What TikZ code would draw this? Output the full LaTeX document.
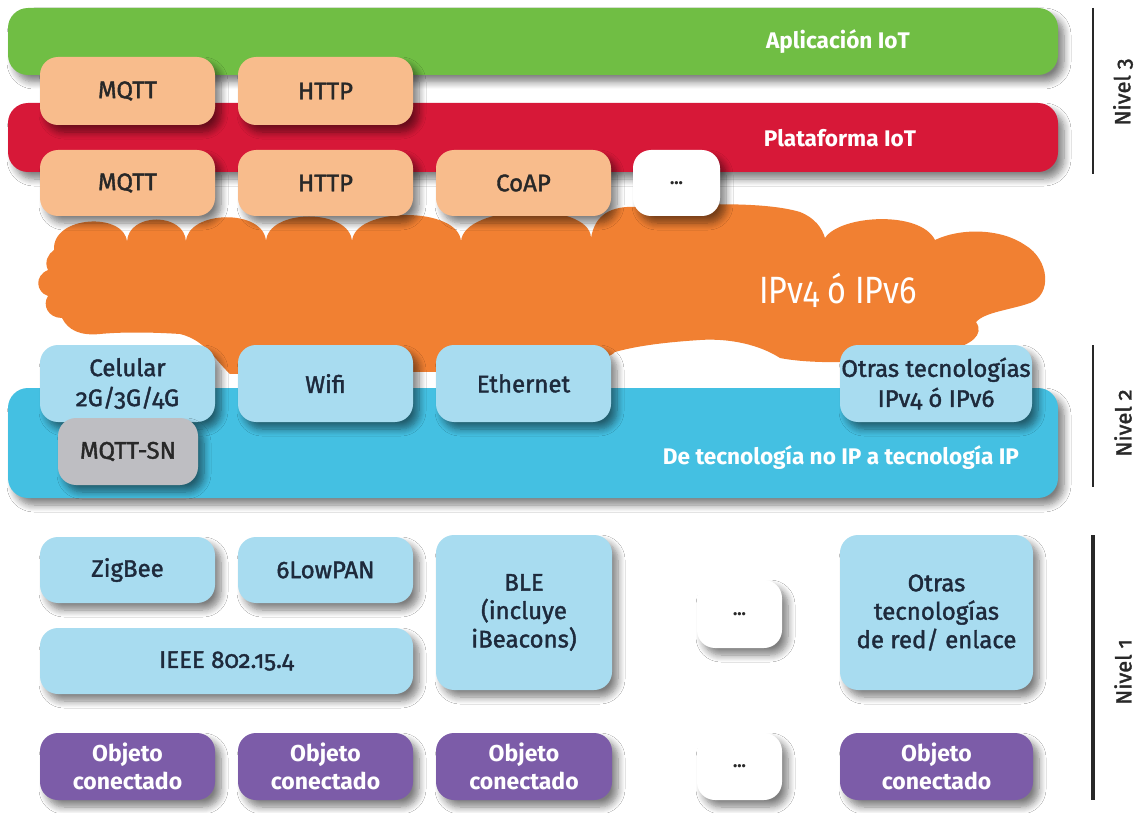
\documentclass[tikz,border=0pt]{standalone}
\usepackage{fontspec}
\usepackage{graphicx}
\setmainfont{Fira Sans}[Numbers=OldStyle]
\newfontfamily\medfont{Fira Sans}[Numbers=OldStyle, FakeBold=1.6]
\usetikzlibrary{shadows.blur}
\definecolor{cgreen}{RGB}{112,190,68}
\definecolor{cred}{RGB}{215,24,56}
\definecolor{cpeach}{RGB}{248,188,140}
\definecolor{corange}{RGB}{241,128,50}
\definecolor{clblue}{RGB}{168,220,240}
\definecolor{cblue}{RGB}{68,192,226}
\definecolor{cgray}{RGB}{190,190,194}
\definecolor{cpurple}{RGB}{124,92,168}
\definecolor{ctext}{RGB}{40,40,40}
\definecolor{cnavy}{RGB}{30,42,60}
\begin{document}
\begin{tikzpicture}[x=0.5pt,y=-0.5pt,
  sz/.style 2 args={minimum width=#1*0.5pt, minimum height=#2*0.5pt},
  softshadow/.style={blur shadow={shadow xshift=3pt,shadow yshift=-3.5pt,shadow blur radius=3.5pt,shadow blur steps=8,shadow opacity=50}},
  boxbase/.style={softshadow, rounded corners=9pt, inner sep=0pt, align=center, font=\medfont\fontsize{12}{15}\selectfont},
  barbox/.style={boxbase, rounded corners=10pt, sz={1050}{#1}},
  peachbox/.style={boxbase, fill=cpeach, text=ctext},
  lbluebox/.style={boxbase, fill=clblue, text=cnavy},
  whitebox/.style={boxbase, fill=white, text=ctext, font=\bfseries\fontsize{9}{10}\selectfont},
  graybox/.style={boxbase, fill=cgray, text=ctext},
  objbox/.style={boxbase, fill=cpurple, text=white, font=\bfseries\fontsize{11.5}{14}\selectfont},
  barlabel/.style={text=white, font=\bfseries\fontsize{11.3}{14}\selectfont, inner sep=0pt},
  nivel/.style={rotate=90, text=ctext, font=\medfont\fontsize{11}{13}\selectfont, inner sep=0pt},
  nivelline/.style={draw=ctext, line width=1pt},
  tall/.style={font=\medfont\fontsize{12}{14.2}\selectfont},
]
\useasboundingbox (0,0) rectangle (1137,813);
\fill[white] (0,0) rectangle (1137,813);

% Nivel 3 bars
\node[barbox=67, fill=cgreen] (app) at (533,41.5) {};
\node[barbox=69, fill=cred] (plat) at (533,137.5) {};
\node[peachbox, sz={175}{68}] (mqtt1) at (127.5,91) {MQTT};
\node[peachbox, sz={175}{68}] (http1) at (325.5,91) {HTTP};

% cloud
\fill[corange] (54,250)
 .. controls (52,215) and (125,212) .. (127,242)
 .. controls (128,212) and (185,212) .. (186,242)
 .. controls (187,210) and (265,208) .. (266,242)
 .. controls (267,208) and (351,208) .. (352,242)
 .. controls (353,206) and (460,206) .. (461,242)
 .. controls (462,204) and (590,200) .. (591,238)
 .. controls (595,215) and (610,205) .. (640,207)
 .. controls (680,205) and (760,200) .. (800,212)
 .. controls (815,218) and (822,228) .. (825,238)
 .. controls (840,215) and (920,210) .. (935,240)
 .. controls (960,228) and (1000,228) .. (1025,245)
 .. controls (1050,260) and (1052,295) .. (1030,303)
 .. controls (1010,310) and (985,312) .. (976,322)
 .. controls (985,335) and (970,345) .. (950,350)
 .. controls (900,362) and (820,366) .. (780,358)
 .. controls (760,345) and (730,338) .. (700,340)
 .. controls (670,342) and (640,345) .. (615,352)
 .. controls (600,368) and (500,372) .. (400,372)
 -- (230,374)
 .. controls (215,360) and (205,340) .. (180,334)
 .. controls (150,332) and (120,332) .. (100,334)
 .. controls (80,336) and (68,330) .. (62,318)
 .. controls (48,318) and (42,305) .. (48,296)
 .. controls (36,292) and (34,276) .. (48,270)
 .. controls (44,262) and (48,254) .. (54,250) -- cycle;

\node[peachbox, sz={175}{66}] (mqtt2) at (127.5,183) {MQTT};
\node[peachbox, sz={175}{66}] (http2) at (325.5,183) {HTTP};
\node[peachbox, sz={175}{66}] (coap) at (523.5,183) {CoAP};
\node[whitebox, sz={87}{66}] (dots1) at (676.5,183) {...};

% Nivel 2
\node[barbox=110, fill=cblue] (trans) at (533,443) {};
\node[lbluebox, sz={175}{77}] (cel) at (127.5,383.5) {Celular\\2G/3G/4G};
\node[lbluebox, sz={175}{77}] (wifi) at (325.5,383.5) {Wifi};
\node[lbluebox, sz={175}{77}] (eth) at (523.5,383.5) {Ethernet};
\node[lbluebox, sz={192}{77}] (otrasip) at (936,383.5) {Otras tecnologías\\IPv4 ó IPv6};
\node[graybox, sz={140}{67}] (mqttsn) at (128,451.5) {MQTT-SN};

% Nivel 1
\node[lbluebox, sz={175}{66}] (zig) at (127.5,570) {ZigBee};
\node[lbluebox, sz={175}{66}] (lowpan) at (325.5,570) {6LowPAN};
\node[lbluebox, sz={373}{66}] (ieee) at (226.5,661) {IEEE 802.15.4};
\node[lbluebox, tall, sz={176}{155}] (ble) at (524,612.5) {BLE\\(incluye\\iBeacons)};
\node[whitebox, sz={85}{68}] (dots2) at (739.5,614) {...};
\node[lbluebox, tall, sz={193}{155}] (otrasred) at (936.5,612.5) {Otras\\tecnologías\\de red/ enlace};

\node[objbox, sz={175}{67}] (obj1) at (127.5,766.5) {Objeto\\conectado};
\node[objbox, sz={175}{67}] (obj2) at (325.5,766.5) {Objeto\\conectado};
\node[objbox, sz={176}{67}] (obj3) at (524,766.5) {Objeto\\conectado};
\node[whitebox, sz={85}{67}] (dots3) at (739.5,766.5) {...};
\node[objbox, sz={193}{67}] (obj5) at (936.5,766.5) {Objeto\\conectado};

% labels
\node[barlabel] (appl) at (838,42) {Aplicación IoT};
\node[barlabel] (platl) at (840,138) {Plataforma IoT};
\node[barlabel] (transl) at (841,458) {De tecnología no IP a tecnología IP};
\node[text=white, font=\fontsize{19}{21}\selectfont, inner sep=0pt] (ip) at (838,290) {\scalebox{0.85}[1]{IPv4 ó IPv6}};

% niveles
\coordinate (n3a) at (1093,8); \coordinate (n3b) at (1093,174);
\coordinate (n2a) at (1093,345); \coordinate (n2b) at (1093,487);
\coordinate (n1a) at (1093,535); \coordinate (n1b) at (1093,800);
\draw[nivelline] (n3a) -- (n3b);
\draw[nivelline] (n2a) -- (n2b);
\draw[nivelline, line width=2pt] (n1a) -- (n1b);
\node[nivel] (niv3) at (1123,92) {Nivel 3};
\node[nivel] (niv2) at (1123,423) {Nivel 2};
\node[nivel] (niv1) at (1123,672) {Nivel 1};
\end{tikzpicture}
\end{document}
